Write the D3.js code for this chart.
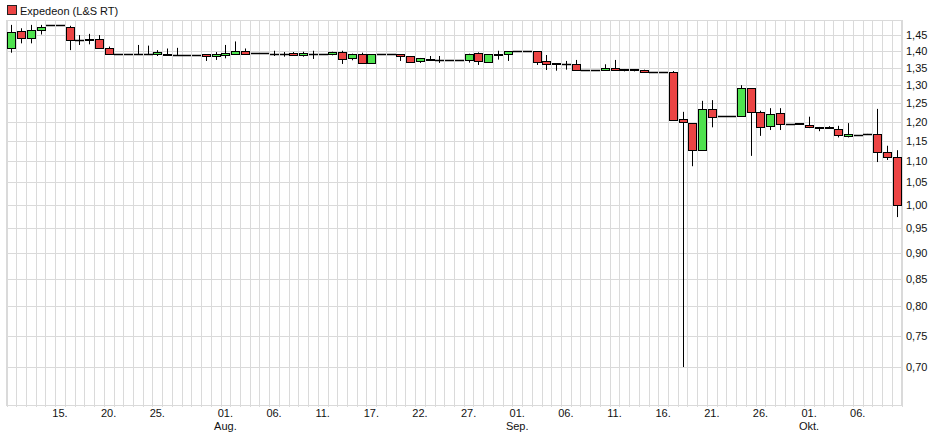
<!DOCTYPE html>
<html><head><meta charset="utf-8">
<script src="https://cdn.jsdelivr.net/npm/d3@7"></script>
<style>html,body{margin:0;padding:0;background:#fff;}svg{display:block;font-family:"Liberation Sans",Arial,sans-serif;}</style>
</head><body><svg id="c" width="940" height="439"></svg>
<script>
const dates = ["07-10","07-11","07-12","07-13","07-14","07-15","07-16","07-17","07-18","07-19","07-20","07-21","07-22","07-23","07-24","07-25","07-26","07-27","07-28","07-29","07-30","07-31",
"08-01","08-02","08-03","08-04","08-05","08-06","08-07","08-08","08-09","08-10","08-11","08-12","08-13","08-14","08-16","08-17","08-18","08-19","08-20","08-21","08-22","08-23","08-24","08-25","08-26","08-27","08-28","08-29","08-30","08-31",
"09-01","09-02","09-03","09-04","09-05","09-06","09-07","09-08","09-09","09-10","09-11","09-12","09-13","09-14","09-15","09-16","09-17","09-18","09-19","09-20","09-21","09-22","09-23","09-24","09-25","09-26","09-27","09-28","09-29","09-30",
"10-01","10-02","10-03","10-04","10-05","10-06","10-07","10-08","10-09","10-10"];
const open  = [1.410,1.463,1.441,1.467,1.483,1.483,1.478,1.436,1.434,1.440,1.410,1.391,1.391,1.391,1.392,1.391,1.393,1.390,1.389,1.389,1.391,1.386,1.388,1.393,1.401,1.396,1.394,1.393,1.391,1.394,1.389,1.391,1.391,1.391,1.399,1.379,1.391,1.365,1.391,1.391,1.391,1.386,1.371,1.377,1.375,1.375,1.375,1.375,1.394,1.369,1.392,1.391,1.401,1.401,1.401,1.371,1.364,1.363,1.361,1.345,1.345,1.345,1.351,1.346,1.346,1.345,1.339,1.339,1.339,1.206,1.196,1.127,1.233,1.214,1.214,1.216,1.291,1.225,1.189,1.222,1.194,1.196,1.190,1.186,1.186,1.180,1.162,1.166,1.168,1.167,1.122,1.110];
const high  = [1.484,1.473,1.484,1.484,1.483,1.483,1.481,1.451,1.455,1.451,1.415,1.391,1.391,1.420,1.418,1.404,1.409,1.411,1.389,1.389,1.391,1.398,1.420,1.431,1.409,1.396,1.394,1.402,1.398,1.398,1.399,1.402,1.391,1.399,1.402,1.393,1.396,1.391,1.391,1.391,1.391,1.386,1.380,1.386,1.386,1.375,1.375,1.393,1.397,1.391,1.402,1.401,1.401,1.401,1.401,1.389,1.364,1.371,1.374,1.345,1.345,1.361,1.374,1.347,1.346,1.345,1.339,1.339,1.341,1.226,1.196,1.256,1.258,1.214,1.214,1.300,1.291,1.229,1.236,1.236,1.194,1.196,1.213,1.186,1.188,1.189,1.196,1.166,1.168,1.234,1.138,1.127];
const low   = [1.396,1.425,1.425,1.453,1.483,1.483,1.404,1.420,1.422,1.410,1.391,1.391,1.391,1.389,1.391,1.386,1.386,1.386,1.389,1.389,1.371,1.374,1.379,1.389,1.389,1.396,1.394,1.386,1.384,1.386,1.384,1.377,1.391,1.388,1.362,1.373,1.365,1.365,1.391,1.391,1.371,1.368,1.365,1.371,1.365,1.375,1.375,1.366,1.359,1.369,1.375,1.371,1.401,1.401,1.359,1.344,1.342,1.345,1.345,1.345,1.345,1.345,1.342,1.340,1.340,1.336,1.339,1.339,1.204,0.700,1.088,1.125,1.185,1.214,1.214,1.213,1.113,1.163,1.178,1.178,1.194,1.194,1.183,1.175,1.181,1.159,1.159,1.166,1.167,1.098,1.103,0.973];
const close = [1.460,1.441,1.467,1.478,1.483,1.483,1.436,1.436,1.440,1.410,1.391,1.391,1.391,1.391,1.392,1.397,1.390,1.390,1.389,1.389,1.386,1.391,1.396,1.401,1.393,1.396,1.394,1.391,1.391,1.389,1.394,1.391,1.391,1.399,1.378,1.391,1.365,1.391,1.391,1.391,1.386,1.368,1.380,1.374,1.375,1.375,1.375,1.393,1.370,1.391,1.390,1.401,1.401,1.401,1.369,1.363,1.362,1.363,1.345,1.345,1.345,1.351,1.345,1.344,1.344,1.339,1.339,1.339,1.204,1.198,1.127,1.233,1.213,1.214,1.214,1.291,1.225,1.187,1.219,1.193,1.194,1.194,1.185,1.184,1.183,1.165,1.167,1.166,1.167,1.122,1.110,1.000];
const yTicks = [0.70,0.75,0.80,0.85,0.90,0.95,1.00,1.05,1.10,1.15,1.20,1.25,1.30,1.35,1.40,1.45];
const dayTicks = ["07-15","07-20","07-25","08-01","08-06","08-11","08-17","08-22","08-27","09-01","09-06","09-11","09-16","09-21","09-26","10-01","10-06"];
const monthTicks = {"08-01":"Aug.","09-01":"Sep.","10-01":"Okt."};
const seriesName = "Expedeon (L&S RT)";

const svg = d3.select("#c");
const L = 6.5, R = 901.5, T = 20, B = 405;
const x = d3.scaleBand().domain(dates).range([L, R]).padding(0);
const y = d3.scaleLog().domain([0.644, 1.50]).range([B, T]);
const bw = x.bandwidth();
const cx = d => Math.round(x(d) + bw/2) + 0.5;
const grid = "#dadada";

// horizontal grid
svg.append("g").selectAll("line").data(yTicks).join("line")
  .attr("x1", L).attr("x2", R)
  .attr("y1", d => Math.round(y(d)) + 0.5).attr("y2", d => Math.round(y(d)) + 0.5)
  .attr("stroke", grid);
// vertical grid (band boundaries)
const bounds = dates.map(d => x(d)).concat([R]);
svg.append("g").selectAll("line").data(bounds).join("line")
  .attr("x1", d => Math.round(d) + 0.5).attr("x2", d => Math.round(d) + 0.5)
  .attr("y1", T).attr("y2", B + 2)
  .attr("stroke", grid);
svg.append("rect").attr("x", L).attr("y", T + 0.5).attr("width", R - L).attr("height", B - T)
  .attr("fill", "none").attr("stroke", grid);

// y labels
svg.append("g").selectAll("text").data(yTicks).join("text")
  .attr("x", 906).attr("y", d => y(d) + 4)
  .attr("font-size", 11).attr("fill", "#111")
  .text(d => d.toFixed(2).replace(".", ","));

// x labels
const xl = svg.append("g");
xl.selectAll("text.d").data(dayTicks).join("text").attr("class","d")
  .attr("x", d => x(d) + bw/2).attr("y", 417).attr("text-anchor","middle")
  .attr("font-size", 11).attr("fill", "#111")
  .text(d => d.slice(3) + ".");
xl.selectAll("text.m").data(Object.keys(monthTicks)).join("text").attr("class","m")
  .attr("x", d => x(d) + bw/2).attr("y", 430).attr("text-anchor","middle")
  .attr("font-size", 11).attr("fill", "#111")
  .text(d => monthTicks[d]);

// candles
const data = dates.map((d, i) => ({d, o: open[i], h: high[i], l: low[i], c: close[i]}));
const g = svg.append("g");
g.selectAll("line.w").data(data).join("line").attr("class","w")
  .attr("x1", d => cx(d.d)).attr("x2", d => cx(d.d))
  .attr("y1", d => y(d.h)).attr("y2", d => y(d.l))
  .attr("stroke", "#000").attr("stroke-width", 1);
const half = 4;
g.selectAll("g.b").data(data).join(g2 => g2.append("g").attr("class","b")).each(function(d) {
  const sel = d3.select(this);
  const xc = cx(d.d) - 0.5;
  const y1 = Math.round(y(Math.max(d.o, d.c))) + 0.5;
  const y2 = Math.round(y(Math.min(d.o, d.c))) + 0.5;
  if (y2 - y1 < 1) {
    sel.append("line").attr("x1", xc - half).attr("x2", xc + half + 1)
      .attr("y1", y1).attr("y2", y1).attr("stroke", "#000").attr("stroke-width", 1.5);
  } else {
    sel.append("rect").attr("x", xc - half + 0.5).attr("width", 2*half)
      .attr("y", y1).attr("height", y2 - y1)
      .attr("fill", d.c >= d.o ? "#4fe24f" : "#ec4444")
      .attr("stroke", "#000").attr("stroke-width", 1);
  }
});

// legend
svg.append("rect").attr("x", 7.5).attr("y", 5.5).attr("width", 9).attr("height", 9)
  .attr("fill", "#ec4444").attr("stroke", "#222");
svg.append("text").attr("x", 20).attr("y", 14.5).attr("font-size", 11).attr("fill", "#111").text(seriesName);
</script></body></html>
